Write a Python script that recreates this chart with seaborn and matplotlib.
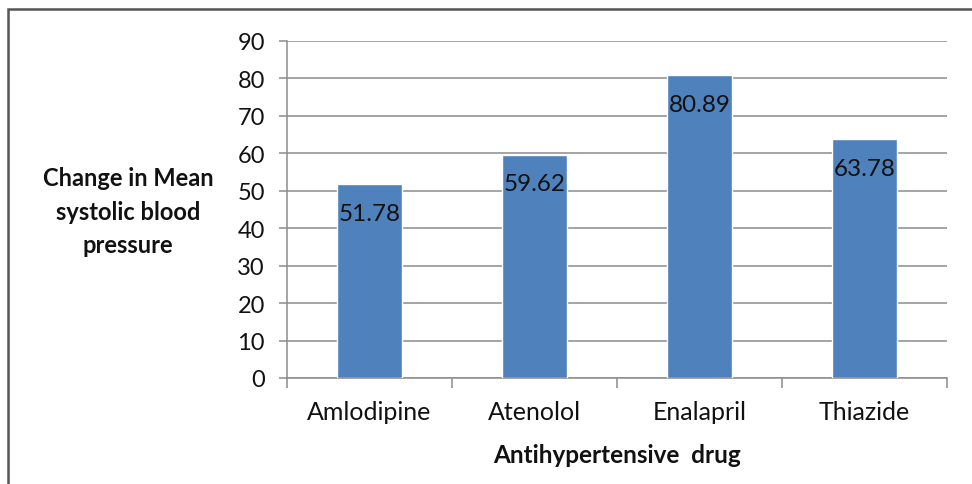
import matplotlib
matplotlib.use("Agg")
import matplotlib.pyplot as plt
from matplotlib.patches import Rectangle
import seaborn as sns
import pandas as pd

drugs = ["Amlodipine", "Atenolol", "Enalapril", "Thiazide"]
bp_change = [51.78, 59.62, 80.89, 63.78]
y_ticks = [0, 10, 20, 30, 40, 50, 60, 70, 80, 90]

df = pd.DataFrame({"drug": drugs, "change": bp_change})

sns.set_theme(style="white")
plt.rcParams["font.family"] = ["Lato", "DejaVu Sans"]

W, H = 972, 485
fig = plt.figure(figsize=(W / 100, H / 100), dpi=100)
ax = fig.add_axes([287 / W, 1 - 379 / H, (947 - 287) / W, (379 - 42) / H])

sns.barplot(data=df, x="drug", y="change", color="#4F81BD", saturation=1,
            width=0.39, ax=ax, zorder=3)

ax.set_ylim(0, 90)
ax.set_xlim(-0.5, len(drugs) - 0.5)
ax.set_yticks(y_ticks)
ax.set_yticklabels([str(t) for t in y_ticks], fontsize=17, color="#111111")
ax.yaxis.grid(True, color="#8c8c8c", linewidth=1.1, zorder=0)
ax.set_axisbelow(True)

for s in ["top", "right"]:
    ax.spines[s].set_visible(False)
for s in ["left", "bottom"]:
    ax.spines[s].set_color("#8c8c8c")
    ax.spines[s].set_linewidth(1.1)

ax.tick_params(axis="y", length=6, width=1.1, color="#8c8c8c", pad=10, left=True)
ax.tick_params(axis="x", which="major", length=0, pad=16, labelsize=18,
               labelcolor="#111111")
ax.set_xticks([i - 0.5 for i in range(len(drugs) + 1)], minor=True)
ax.tick_params(axis="x", which="minor", length=7, width=1.1, color="#8c8c8c",
               bottom=True)

for i, v in enumerate(bp_change):
    ax.annotate(f"{v:.2f}", xy=(i, v), xytext=(0, -21), textcoords="offset points",
                ha="center", va="center", fontsize=17.5, color="#111111")

ax.set_xlabel("Antihypertensive  drug", fontsize=17.5, fontweight="bold",
              color="#111111", labelpad=14)
ax.set_ylabel("")
fig.text(128 / W, 1 - 212 / H, "Change in Mean\nsystolic blood\npressure",
         ha="center", va="center", fontsize=17, fontweight="bold",
         color="#111111", linespacing=1.55)

fig.patches.append(Rectangle((8 / W, -0.1), 1.1, 1 - 10 / H + 0.1,
                             transform=fig.transFigure, fill=False,
                             edgecolor="#555555", linewidth=1.8))

fig.savefig("out.png", dpi=100)
